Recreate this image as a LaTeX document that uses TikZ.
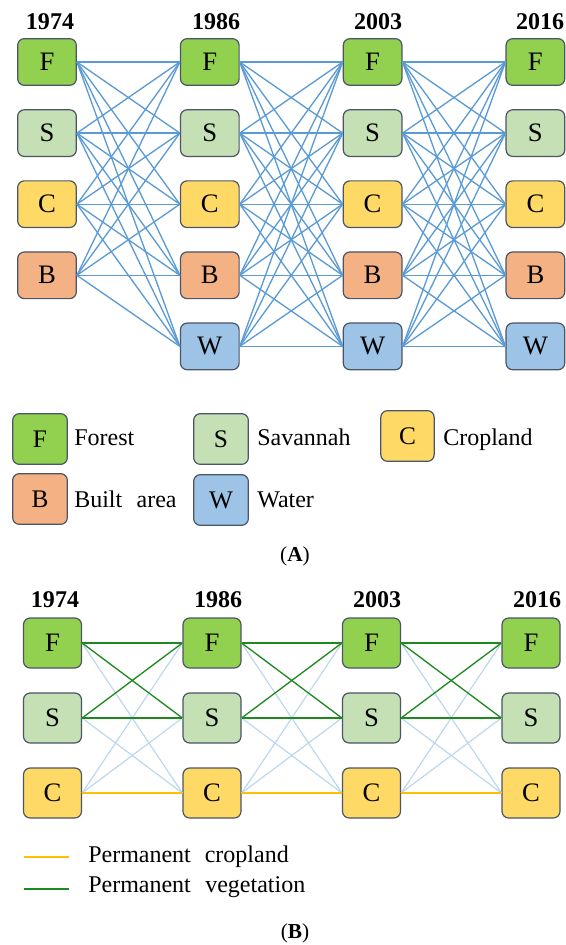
\documentclass[tikz,border=0pt]{standalone}
\usepackage{fontspec}
\setmainfont{Liberation Serif}
\definecolor{forest}{HTML}{92D050}
\definecolor{savannah}{HTML}{C5E0B4}
\definecolor{cropland}{HTML}{FFD966}
\definecolor{built}{HTML}{F4B183}
\definecolor{water}{HTML}{9DC3E6}
\definecolor{boxline}{HTML}{4A5567}
\definecolor{flow}{HTML}{5B9BD5}
\definecolor{paleflow}{HTML}{BDD7EE}
\definecolor{vegline}{HTML}{1E8A1E}
\definecolor{cropline}{HTML}{FFC000}
\begin{document}
\begin{tikzpicture}[x=0.75pt,y=-0.75pt,
	class node/.style = {draw=boxline, line width=0.9pt, rounded corners=5pt, inner sep=0pt,
		minimum width=44pt, minimum height=35pt, font=\fontsize{20}{20}\selectfont},
	small node/.style = {class node, minimum width=43.5pt, minimum height=37.5pt},
	key node/.style = {class node, minimum width=41pt, minimum height=38pt, font=\fontsize{19}{19}\selectfont},
	year/.style = {font=\fontsize{18}{18}\selectfont\bfseries},
	key/.style = {anchor=base west, inner sep=0pt, font=\fontsize{18}{18}\selectfont},
	flow line/.style = {flow, line width=1pt},
	pale line/.style = {paleflow, line width=0.9pt},
	veg line/.style = {vegline, line width=1pt},
	crop line/.style = {cropline, line width=1pt}]
	\useasboundingbox (0,0) rectangle (565,945);
	
	% (A) all classes
	\foreach \k/\col [count=\r from 0] in {F/forest,S/savannah,C/cropland,B/built}
		\node[class node,fill=\col] (t1974\k) at (47,{62+71.1*\r}) {\k};
	\foreach \k/\col [count=\r from 0] in {F/forest,S/savannah,C/cropland,B/built,W/water}
		\foreach \yr [count=\c] in {1986,2003,2016}
			\node[class node,fill=\col] (t\yr\k) at ({47+162.8*\c},{62+71.1*\r}) {\k};
	\node[year] (ty1) at (50,22) {1974};
	\node[year] (ty2) at (216,22) {1986};
	\node[year] (ty3) at (378,22) {2003};
	\node[year] (ty4) at (540,22) {2016};
	
	\foreach \a in {F,S,C,B}
		\foreach \b in {F,S,C,B,W}
			\draw[flow line] (t1974\a.east) -- (t1986\b.west);
	\foreach \p/\q in {1986/2003,2003/2016}
		\foreach \a in {F,S,C,B,W}
			\foreach \b in {F,S,C,B,W}
				\draw[flow line] (t\p\a.east) -- (t\q\b.west);
	
	% legend
	\node[key node,fill=forest] (kF) at (40,439) {F};
	\node[key node,fill=savannah] (kS) at (221,439) {S};
	\node[key node,fill=cropland,minimum width=40pt] (kC) at (407.5,436) {C};
	\node[key node,fill=built] (kB) at (40,499) {B};
	\node[key node,fill=water] (kW) at (221,500) {W};
	\node[key] (kFt) at (74,445) {Forest};
	\node[key] (kSt) at (257,445.5) {Savannah};
	\node[key] (kCt) at (443,445.5) {Cropland};
	\node[key] (kBt) at (74,507) {Built\hspace{0.6em}area};
	\node[key] (kWt) at (257,507) {Water};
	\node[font=\fontsize{16}{16}\selectfont] (capA) at (295,556) {(\textbf{A})};
	
	% (B) vegetation and cropland
	\foreach \k/\col [count=\r from 0] in {F/forest,S/savannah,C/cropland}
		\foreach \yr [count=\c from 0] in {1974,1986,2003,2016}
			\node[small node,fill=\col] (b\yr\k) at ({52.5+159.5*\c},{643+75*\r}) {\k};
	\node[year] (by1) at (55,600) {1974};
	\node[year] (by2) at (218,600) {1986};
	\node[year] (by3) at (377,600) {2003};
	\node[year] (by4) at (537,600) {2016};
	
	\foreach \p/\q in {1974/1986,1986/2003,2003/2016}{
		\draw[pale line] (b\p F.east) -- (b\q C.west);
		\draw[pale line] (b\p S.east) -- (b\q C.west);
		\draw[pale line] (b\p C.east) -- (b\q F.west);
		\draw[pale line] (b\p C.east) -- (b\q S.west);
		\draw[veg line] (b\p F.east) -- (b\q F.west);
		\draw[veg line] (b\p F.east) -- (b\q S.west);
		\draw[veg line] (b\p S.east) -- (b\q F.west);
		\draw[veg line] (b\p S.east) -- (b\q S.west);
		\draw[crop line] (b\p C.east) -- (b\q C.west);
	}
	
	% legend
	\coordinate (kc1) at (24,857);
	\coordinate (kc2) at (69,857);
	\coordinate (kv1) at (24,889);
	\coordinate (kv2) at (69,889);
	\draw[crop line] (kc1) -- (kc2);
	\draw[veg line] (kv1) -- (kv2);
	\node[key] (kct) at (88,862.5) {Permanent\hspace{0.58em}cropland};
	\node[key] (kvt) at (88,892.5) {Permanent\hspace{0.6em}vegetation};
	\node[font=\fontsize{16}{16}\selectfont] (capB) at (295,933) {(\textbf{B})};
\end{tikzpicture}
\end{document}
